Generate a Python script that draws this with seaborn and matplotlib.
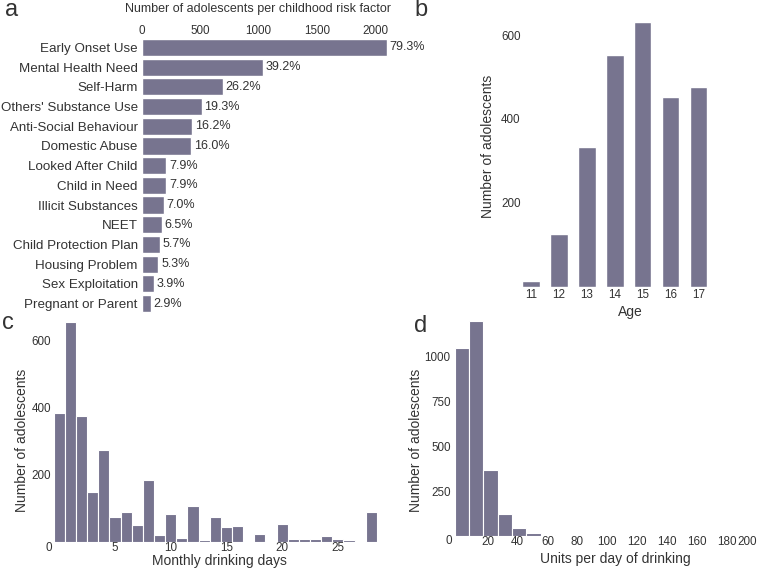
import matplotlib
matplotlib.use('Agg')
import matplotlib.pyplot as plt
import numpy as np
import seaborn as sns

# panel a: childhood risk factors
risk_factors = ['Early Onset Use', 'Mental Health Need', 'Self-Harm', "Others' Substance Use",
                'Anti-Social Behaviour', 'Domestic Abuse', 'Looked After Child', 'Child in Need',
                'Illicit Substances', 'NEET', 'Child Protection Plan', 'Housing Problem',
                'Sex Exploitation', 'Pregnant or Parent']
risk_counts = [2100, 1038, 693, 512, 430, 424, 209, 209, 186, 172, 151, 140, 103, 77]
risk_pct = ['79.3%', '39.2%', '26.2%', '19.3%', '16.2%', '16.0%', '7.9%', '7.9%',
            '7.0%', '6.5%', '5.7%', '5.3%', '3.9%', '2.9%']

# panel b: age
ages = [11, 12, 13, 14, 15, 16, 17]
age_counts = [14, 126, 333, 552, 632, 452, 475]

# panel c: monthly drinking days (0..28)
days = list(range(29))
day_counts = [385, 656, 375, 149, 275, 76, 90, 51, 186, 21, 85, 13, 107, 6, 76,
              44, 49, 2, 24, 4, 54, 8, 8, 8, 18, 8, 7, 3, 91]

# panel d: units per day of drinking (21 bins)
unit_counts = [1049, 1197, 371, 126, 48, 18, 6, 3, 2, 0, 0, 1, 0, 0, 0, 0, 0, 0, 0, 0, 1]
unit_range = (-2, 199)

BAR = '#77748f'
TXT = '#333333'
NUM = 8.4  # tick number size
W, H = 760, 569

sns.set_theme(style='white')
plt.rcParams['font.family'] = ['Liberation Sans', 'DejaVu Sans']
plt.rcParams['text.color'] = TXT
plt.rcParams['axes.labelcolor'] = TXT
plt.rcParams['xtick.color'] = TXT
plt.rcParams['ytick.color'] = TXT

fig = plt.figure(figsize=(W / 100, H / 100), dpi=100)


def add_ax(left, top, right, bottom):
    a = fig.add_axes([left / W, 1 - bottom / H, (right - left) / W, (bottom - top) / H])
    a.patch.set_visible(False)
    return a


def place_label(ax, axis, px, py):
    x0, y0, w, h = ax.get_position().bounds
    fx = (px / W - x0) / w
    fy = (1 - py / H - y0) / h
    lab = ax.xaxis.label if axis == 'x' else ax.yaxis.label
    axobj = ax.xaxis if axis == 'x' else ax.yaxis
    axobj.set_label_coords(fx, fy)
    lab.set_va('center')
    lab.set_ha('center')


def clean(ax):
    sns.despine(ax=ax, left=True, bottom=True, top=True, right=True)
    ax.tick_params(length=0)
    ax.grid(False)


# ---------------- a
ax = add_ax(142, 38.5, 388, 312.5)
sns.barplot(x=risk_counts, y=risk_factors, color=BAR, saturation=1, width=0.87, ax=ax)
ax.set_ylim(13.45, -0.45)
ax.set_xlim(0, 2110)
ax.xaxis.tick_top()
ax.xaxis.set_label_position('top')
ax.set_xticks([0, 500, 1000, 1500, 2000])
ax.tick_params(axis='x', labelsize=NUM, pad=1)
ax.tick_params(axis='y', labelsize=9.6, pad=3)
ax.bar_label(ax.containers[0], labels=risk_pct, padding=2, fontsize=9, color=TXT)
ax.set_xlabel('Number of adolescents per childhood risk factor', fontsize=9)
ax.set_ylabel('')
clean(ax)
place_label(ax, 'x', 258, 9)

# ---------------- b
ax = add_ax(522, 9.9, 707.5, 286.5)
sns.barplot(x=ages, y=age_counts, color=BAR, saturation=1, width=0.63, ax=ax)
ax.set_xlim(-0.33, 6.33)
ax.set_ylim(0, 660)
ax.set_yticks([200, 400, 600])
ax.tick_params(axis='both', labelsize=NUM)
ax.tick_params(axis='x', pad=1.5)
ax.tick_params(axis='y', pad=1)
ax.set_xlabel('Age', fontsize=10)
ax.set_ylabel('Number of adolescents', fontsize=10)
clean(ax)
place_label(ax, 'x', 630, 311.7)
place_label(ax, 'y', 488.3, 146)

# ---------------- c
ax = add_ax(53.7, 317.5, 376.8, 542)
sns.histplot(x=days, weights=day_counts, discrete=True, color=BAR, alpha=1,
             edgecolor='white', linewidth=0.8, ax=ax)
ax.set_xlim(-0.5, 28.5)
ax.set_ylim(0, 670)
ax.set_xticks([5, 10, 15, 20, 25])
ax.set_yticks([200, 400, 600])
ax.tick_params(axis='both', labelsize=NUM)
ax.tick_params(axis='x', pad=0)
ax.tick_params(axis='y', pad=2)
ax.annotate('0', xy=(0, 0), xycoords='axes fraction', xytext=(-5, -6),
            textcoords='offset pixels', ha='center', va='center', fontsize=NUM, color=TXT)
ax.set_xlabel('Monthly drinking days', fontsize=10)
ax.set_ylabel('Number of adolescents', fontsize=10)
clean(ax)
place_label(ax, 'x', 219, 561)
place_label(ax, 'y', 21.7, 440.5)

# ---------------- d
n_bins = len(unit_counts)
width = (unit_range[1] - unit_range[0]) / n_bins
centers = [unit_range[0] + width * (i + 0.5) for i in range(n_bins)]
ax = add_ax(454.8, 315, 758.8, 536.3)
sns.histplot(x=centers, weights=unit_counts, bins=n_bins, binrange=unit_range, color=BAR,
             alpha=1, edgecolor='white', linewidth=0.8, ax=ax)
ax.set_xlim(-2, 201.5)
ax.set_ylim(0, 1230)
ax.set_xticks(list(range(20, 201, 20)))
ax.set_yticks([250, 500, 750, 1000])
ax.tick_params(axis='both', labelsize=NUM)
ax.tick_params(axis='x', pad=0)
ax.tick_params(axis='y', pad=3)
ax.get_xticklabels()[-1].set_ha('right')
ax.annotate('0', xy=(0, 0), xycoords='axes fraction', xytext=(-6, -5),
            textcoords='offset pixels', ha='center', va='center', fontsize=NUM, color=TXT)
ax.set_xlabel('Units per day of drinking', fontsize=10)
ax.set_ylabel('Number of adolescents', fontsize=10)
clean(ax)
place_label(ax, 'x', 615.8, 559)
place_label(ax, 'y', 415.8, 440.8)

# panel letters
for letter, (px, py) in zip('abcd', [(12, 10), (421, 10), (8, 323), (421, 326)]):
    fig.text(px / W, 1 - py / H, letter, fontsize=17, ha='center', va='center', color=TXT)

fig.savefig('out.png', dpi=100)
